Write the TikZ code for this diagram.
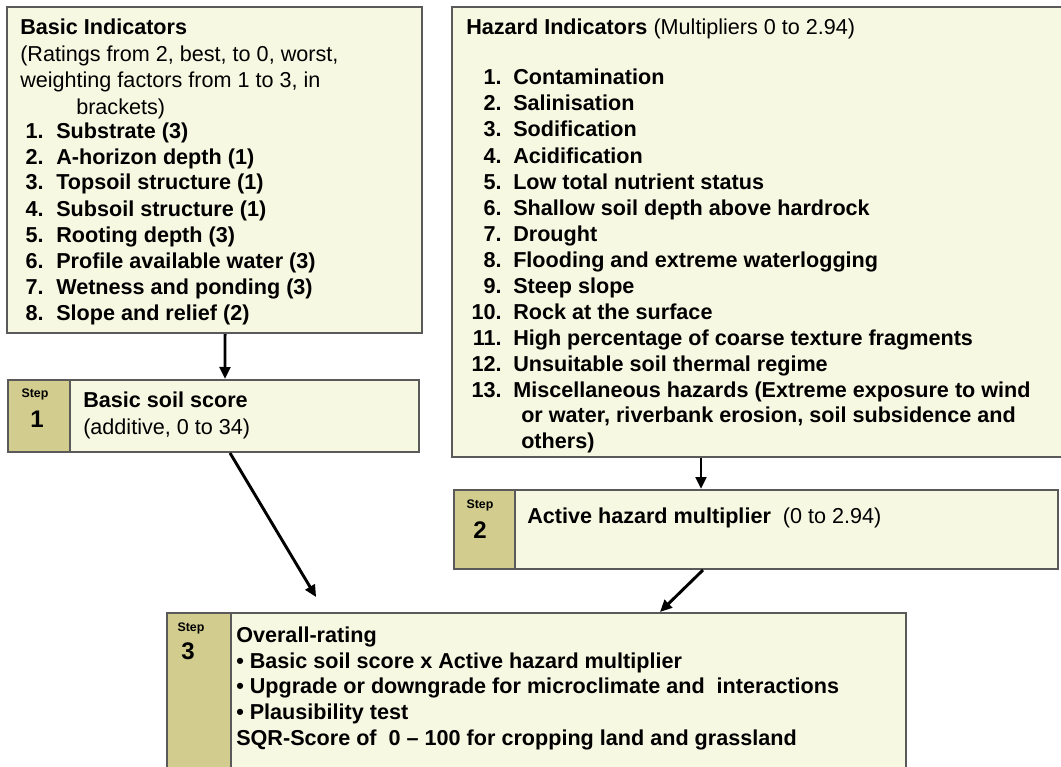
\documentclass[tikz,border=0pt]{standalone}
\usepackage{fontspec}
\setmainfont{Liberation Sans}
\usetikzlibrary{arrows.meta}

\definecolor{boxfill}{HTML}{F7F8E2}
\definecolor{stepfill}{HTML}{D2CD8E}
\definecolor{boxline}{HTML}{5A5A5A}

\tikzset{
  panel/.style={draw=boxline, line width=1.5pt, fill=boxfill, inner sep=0pt},
  stepcell/.style={draw=boxline, line width=1.5pt, fill=stepfill, inner sep=0pt, anchor=north west},
  txt/.style={anchor=base west, inner sep=0pt, font=\fontsize{16.2}{19.5}\selectfont},
  btxt/.style={txt, font=\fontsize{16.2}{19.5}\selectfont\bfseries},
  num/.style={anchor=base east, inner sep=0pt, font=\fontsize{16.2}{19.5}\selectfont\bfseries},
  steplbl/.style={anchor=base, inner sep=0pt, font=\fontsize{9.3}{11}\selectfont\bfseries},
  stepnum/.style={anchor=base, inner sep=0pt, font=\fontsize{18}{20}\selectfont\bfseries},
  flow/.style={-{Triangle[length=9pt,width=8pt]}, line width=2.2pt, black},
}

\begin{document}
\begin{tikzpicture}[x=0.75pt, y=-0.75pt]
\useasboundingbox (0,0) rectangle (1061,767);
\clip (0,0) rectangle (1061,767);

% panels
\node [panel, minimum width={415*0.75pt}, minimum height={326*0.75pt}] (basic) at (214.5,170) {};
\node [panel, minimum width={618*0.75pt}, minimum height={450*0.75pt}] (hazard) at (761,232) {};
\node [panel, minimum width={411*0.75pt}, minimum height={72*0.75pt}] (step1) at (213.5,416) {};
\node [panel, minimum width={604*0.75pt}, minimum height={79*0.75pt}] (step2) at (756,529.5) {};
\node [panel, minimum width={739*0.75pt}, minimum height={180*0.75pt}] (step3) at (536.5,703) {};

% step cells
\node [stepcell, minimum width={62*0.75pt}, minimum height={72*0.75pt}] (cell1) at (step1.north west) {};
\node [stepcell, minimum width={61*0.75pt}, minimum height={79*0.75pt}] (cell2) at (step2.north west) {};
\node [stepcell, minimum width={64*0.75pt}, minimum height={180*0.75pt}] (cell3) at (step3.north west) {};

\node [steplbl] (lbl1) at (35,397) {Step};
\node [stepnum] (num1) at (37,427) {1};
\node [steplbl] (lbl2) at (480,508) {Step};
\node [stepnum] (num2) at (480,538) {2};
\node [steplbl] (lbl3) at (191,631) {Step};
\node [stepnum] (num3) at (188,659) {3};

% basic indicators
\node [btxt] (basichead) at (20,35) {Basic Indicators};
\node [txt] (basicl1) at (20,62) {(Ratings from 2, best, to 0, worst,};
\node [txt] (basicl2) at (20,88) {weighting factors from 1 to 3, in};
\node [txt] (basicl3) at (76,114) {brackets)};
\foreach \t [count=\i] in {Substrate (3), A-horizon depth (1), Topsoil structure (1),
    Subsoil structure (1), Rooting depth (3), Profile available water (3),
    Wetness and ponding (3), Slope and relief (2)} {
  \node [num] (bn\i) at (44,{138+26*(\i-1)}) {\i.};
  \node [btxt] (bi\i) at (56,{138+26*(\i-1)}) {\t};
}

% hazard indicators
\node [txt] (hazhead) at (466,35) {\textbf{Hazard Indicators} (Multipliers 0 to 2.94)};
\foreach \t [count=\i] in {Contamination, Salinisation, Sodification, Acidification,
    Low total nutrient status, Shallow soil depth above hardrock, Drought,
    Flooding and extreme waterlogging, Steep slope, Rock at the surface,
    High percentage of coarse texture fragments, Unsuitable soil thermal regime,
    Miscellaneous hazards (Extreme exposure to wind} {
  \node [num] (hn\i) at (502,{85+26*(\i-1)}) {\i.};
  \node [btxt] (hi\i) at (513,{85+26*(\i-1)}) {\t};
}
\node [btxt] (hi13b) at (521,422) {or water, riverbank erosion, soil subsidence and};
\node [btxt] (hi13c) at (521,448) {others)};

% steps
\node [btxt] (s1a) at (83,407) {Basic soil score};
\node [txt] (s1b) at (83,434) {(additive, 0 to 34)};
\node [txt] (s2a) at (527,523) {\textbf{Active hazard multiplier}\ \ (0 to 2.94)};
\node [btxt] (s3a) at (236,642) {Overall-rating};
\node [btxt] (s3b) at (236,668) {• Basic soil score x Active hazard multiplier};
\node [btxt] (s3c) at (236,693) {• Upgrade or downgrade for microclimate and\ \ interactions};
\node [btxt] (s3d) at (236,719) {• Plausibility test};
\node [btxt] (s3e) at (236,745) {SQR-Score of\ \ 0 – 100 for cropping land and grassland};

% arrows
\draw [flow] ([xshift=7.9pt]basic.south) -- ([xshift=8.6pt]step1.north);
\draw [flow, shorten >=13pt] ([xshift=12.4pt]step1.south) -- ([xshift=-158.6pt]step3.north);
\draw [flow] ([xshift=-45pt]hazard.south) -- ([xshift=-41.25pt]step2.north);
\draw [flow] ([xshift=-39.75pt]step2.south) -- ([xshift=92.6pt]step3.north);
\end{tikzpicture}
\end{document}
